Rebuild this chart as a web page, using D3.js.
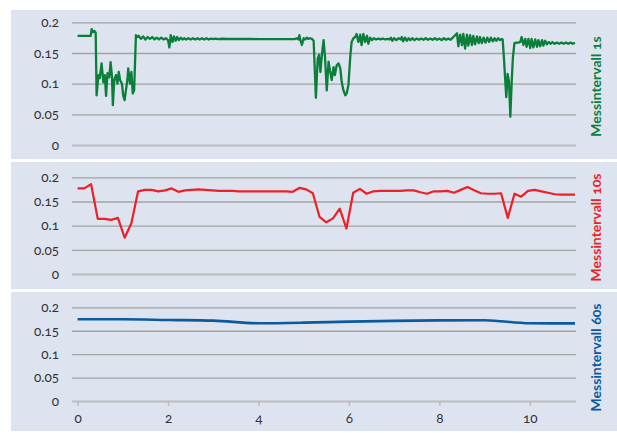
<!DOCTYPE html>
<html>
<head>
<meta charset="utf-8">
<script src="https://cdn.jsdelivr.net/npm/d3@7"></script>
<style>
  body { margin: 0; background: #fff; }
  text { font-family: Lato, "Open Sans", sans-serif; font-variant-numeric: oldstyle-nums; }
</style>
</head>
<body>
<div id="chart"></div>
<script>
// x ticks (shared), y ticks (each panel)
const xTicks = [0, 2, 4, 6, 8, 10];
const yTicks = [0, 0.05, 0.1, 0.15, 0.2];
const seriesLabels = ['Messintervall 1s', 'Messintervall 10s', 'Messintervall 60s'];

// 1s interval: [x, value]
const oneSec = [
  [0, 0.178], [0.29, 0.178], [0.31, 0.189], [0.34, 0.184], [0.37, 0.186], [0.40, 0.183],
  [0.42, 0.081], [0.46, 0.114], [0.49, 0.109], [0.53, 0.133], [0.57, 0.102], [0.60, 0.114],
  [0.63, 0.080], [0.66, 0.117], [0.70, 0.110], [0.73, 0.135], [0.76, 0.112], [0.78, 0.065],
  [0.81, 0.106], [0.85, 0.114], [0.88, 0.100], [0.91, 0.119], [0.94, 0.106], [0.98, 0.100],
  [1.01, 0.080], [1.04, 0.073], [1.07, 0.090], [1.10, 0.106], [1.12, 0.125], [1.16, 0.100],
  [1.19, 0.119], [1.22, 0.084], [1.25, 0.089], [1.29, 0.179], [1.32, 0.176], [1.35, 0.178],
  [1.40, 0.173], [1.45, 0.177], [1.50, 0.172], [1.55, 0.176], [1.60, 0.173], [1.65, 0.176],
  [1.70, 0.172], [1.75, 0.175], [1.80, 0.172], [1.85, 0.175], [1.90, 0.172], [1.95, 0.174],
  [2.00, 0.171], [2.03, 0.159], [2.06, 0.179], [2.10, 0.168], [2.13, 0.177], [2.17, 0.170],
  [2.20, 0.176], [2.24, 0.171], [2.28, 0.175], [2.32, 0.172], [2.36, 0.174], [2.40, 0.172],
  [2.45, 0.174], [2.50, 0.172], [2.55, 0.174], [2.60, 0.172], [2.65, 0.174], [2.70, 0.172],
  [2.75, 0.174], [2.80, 0.172], [2.85, 0.174], [2.90, 0.172], [2.95, 0.1735], [3.00, 0.1725],
  [3.05, 0.1735], [3.10, 0.1725], [3.20, 0.1732], [3.30, 0.1728], [3.40, 0.173], [3.60, 0.1728],
  [3.80, 0.1728], [4.00, 0.1727], [4.20, 0.1727], [4.40, 0.1727], [4.60, 0.1727], [4.80, 0.1727],
  [4.85, 0.174], [4.88, 0.172], [4.905, 0.179], [4.93, 0.170], [4.96, 0.163], [5.00, 0.174],
  [5.03, 0.172], [5.07, 0.175], [5.10, 0.173], [5.14, 0.174], [5.18, 0.173], [5.22, 0.170],
  [5.27, 0.077], [5.31, 0.141], [5.34, 0.147], [5.37, 0.119], [5.40, 0.145], [5.44, 0.171],
  [5.47, 0.145], [5.51, 0.089], [5.55, 0.136], [5.58, 0.122], [5.62, 0.106], [5.66, 0.127],
  [5.69, 0.114], [5.73, 0.130], [5.77, 0.133], [5.81, 0.125], [5.84, 0.103], [5.88, 0.089],
  [5.92, 0.081], [5.95, 0.084], [5.99, 0.098], [6.03, 0.144], [6.06, 0.168], [6.10, 0.174],
  [6.14, 0.176], [6.17, 0.181], [6.21, 0.168], [6.25, 0.180], [6.28, 0.163], [6.32, 0.181],
  [6.36, 0.168], [6.40, 0.178], [6.43, 0.165], [6.47, 0.175], [6.51, 0.171], [6.55, 0.174],
  [6.60, 0.172], [6.65, 0.1735], [6.70, 0.1722], [6.75, 0.1735], [6.80, 0.172], [6.85, 0.173],
  [6.90, 0.172], [6.93, 0.175], [6.96, 0.170], [7.00, 0.174], [7.05, 0.171], [7.10, 0.174],
  [7.15, 0.172], [7.17, 0.176], [7.20, 0.169], [7.24, 0.175], [7.28, 0.170], [7.32, 0.174],
  [7.36, 0.171], [7.40, 0.174], [7.45, 0.171], [7.50, 0.1735], [7.55, 0.1715], [7.60, 0.1735],
  [7.65, 0.1715], [7.70, 0.174], [7.75, 0.1715], [7.80, 0.1735], [7.85, 0.1715], [7.90, 0.174],
  [7.95, 0.1715], [8.00, 0.1735], [8.05, 0.171], [8.10, 0.174], [8.15, 0.1715], [8.20, 0.1735],
  [8.25, 0.1715], [8.31, 0.176], [8.35, 0.179], [8.39, 0.182], [8.42, 0.161], [8.46, 0.180],
  [8.50, 0.163], [8.53, 0.181], [8.57, 0.157], [8.61, 0.180], [8.64, 0.162], [8.68, 0.179],
  [8.72, 0.163], [8.75, 0.178], [8.79, 0.164], [8.83, 0.177], [8.87, 0.166], [8.90, 0.176],
  [8.94, 0.166], [8.98, 0.175], [9.02, 0.167], [9.06, 0.175], [9.10, 0.168], [9.14, 0.175],
  [9.18, 0.169], [9.22, 0.174], [9.26, 0.170], [9.30, 0.174], [9.34, 0.171], [9.38, 0.173],
  [9.40, 0.172], [9.43, 0.140], [9.455, 0.108], [9.48, 0.078], [9.51, 0.116], [9.54, 0.103],
  [9.57, 0.046], [9.60, 0.103], [9.625, 0.141], [9.66, 0.166], [9.71, 0.167], [9.75, 0.167],
  [9.79, 0.168], [9.82, 0.176], [9.86, 0.163], [9.90, 0.173], [9.93, 0.160], [9.97, 0.173],
  [10.01, 0.158], [10.04, 0.173], [10.08, 0.159], [10.12, 0.172], [10.16, 0.160], [10.19, 0.171],
  [10.23, 0.161], [10.27, 0.171], [10.30, 0.162], [10.34, 0.170], [10.38, 0.164], [10.42, 0.168],
  [10.46, 0.165], [10.50, 0.1675], [10.55, 0.165], [10.60, 0.167], [10.65, 0.165], [10.70, 0.167],
  [10.75, 0.165], [10.80, 0.167], [10.85, 0.165], [10.90, 0.167], [10.95, 0.165], [11.00, 0.1665]
];

// 10s interval, evenly spaced from 0 to 11
const tenSec = [
  0.177, 0.177, 0.186, 0.114, 0.114, 0.112, 0.116, 0.075, 0.105, 0.171,
  0.174, 0.174, 0.171, 0.173, 0.177, 0.170, 0.173, 0.174, 0.175, 0.174,
  0.173, 0.172, 0.172, 0.172, 0.171, 0.171, 0.171, 0.171, 0.171, 0.171,
  0.171, 0.171, 0.170, 0.178, 0.175, 0.167, 0.118, 0.107, 0.115, 0.135,
  0.094, 0.168, 0.176, 0.166, 0.171, 0.172, 0.172, 0.172, 0.172, 0.173,
  0.173, 0.169, 0.166, 0.171, 0.171, 0.172, 0.168, 0.174, 0.180, 0.173,
  0.167, 0.166, 0.166, 0.167, 0.116, 0.166, 0.160, 0.172, 0.174, 0.171,
  0.168, 0.165, 0.164, 0.164, 0.164
];

// 60s interval, one value per x unit
const sixtySec = [0.1744, 0.1744, 0.1730, 0.1715, 0.1660, 0.1672, 0.1695, 0.1710, 0.1720, 0.1725, 0.1658, 0.1656];

const width = 617, height = 433;
const svg = d3.select('#chart').append('svg')
  .attr('width', width)
  .attr('height', height);

const x = d3.scaleLinear().domain([0, 11]).range([77.6, 575]);
const gridLeft = 72, gridRight = 576;

const tenStep = 11 / (tenSec.length - 1);

const panels = [
  { top: 10, bottom: 159, y0: 145, y1: 22.3, color: '#0a7f3a', width: 2.3,
    data: oneSec.map(d => ({ x: d[0], v: d[1] })), curve: d3.curveLinear, label: seriesLabels[0] },
  { top: 162, bottom: 289, y0: 274, y1: 177.3, color: '#ee1f26', width: 2.2,
    data: tenSec.map((v, i) => ({ x: i * tenStep, v })), curve: d3.curveLinear, label: seriesLabels[1] },
  { top: 292, bottom: 431, y0: 401, y1: 307.3, color: '#0b5a9e', width: 2.6,
    data: sixtySec.map((v, i) => ({ x: i, v })), curve: d3.curveMonotoneX, label: seriesLabels[2] }
];

panels.forEach((p, idx) => {
  const y = d3.scaleLinear().domain([0, 0.2]).range([p.y0, p.y1]);

  // panel background
  svg.append('rect')
    .attr('x', 11)
    .attr('y', p.top)
    .attr('width', width - 11)
    .attr('height', p.bottom - p.top)
    .attr('fill', '#dde3ef');

  // gridlines + y labels
  const yAxis = svg.append('g')
    .attr('transform', `translate(${gridLeft},0)`)
    .call(d3.axisLeft(y)
      .tickValues(yTicks)
      .tickSize(-(gridRight - gridLeft))
      .tickPadding(13)
      .tickFormat(d => d === 0 ? '0' : d3.format('')(+d.toFixed(2))));
  yAxis.select('.domain').remove();
  yAxis.selectAll('line')
    .attr('stroke', d => d === 0 ? '#bcbcbc' : '#a3a3a3')
    .attr('stroke-width', d => d === 0 ? 2 : 1.3);
  yAxis.selectAll('text')
    .attr('fill', '#333')
    .style('font-size', '13.5px');

  // x axis only under the last panel
  if (idx === panels.length - 1) {
    const xAxis = svg.append('g')
      .attr('transform', `translate(0,${p.y0})`)
      .call(d3.axisBottom(x).tickValues(xTicks).tickSize(5).tickPadding(7));
    xAxis.select('.domain').remove();
    xAxis.selectAll('line').attr('stroke', '#bcbcbc').attr('stroke-width', 1.5);
    xAxis.selectAll('text').attr('fill', '#333').style('font-size', '13.5px');
  }

  const line = d3.line()
    .x(d => x(d.x))
    .y(d => y(d.v))
    .curve(p.curve);

  svg.append('path')
    .datum(p.data)
    .attr('fill', 'none')
    .attr('stroke', p.color)
    .attr('stroke-width', p.width)
    .attr('stroke-linejoin', 'round')
    .attr('d', line);

  // series label on the right
  const cy = (p.top + p.bottom) / 2 + (idx === 2 ? -4 : 2);
  svg.append('text')
    .attr('transform', `translate(601,${cy}) rotate(-90)`)
    .attr('text-anchor', 'middle')
    .attr('fill', p.color)
    .style('font-size', '14px')
    .style('font-weight', 'bold')
    .text(p.label);
});
</script>
</body>
</html>
